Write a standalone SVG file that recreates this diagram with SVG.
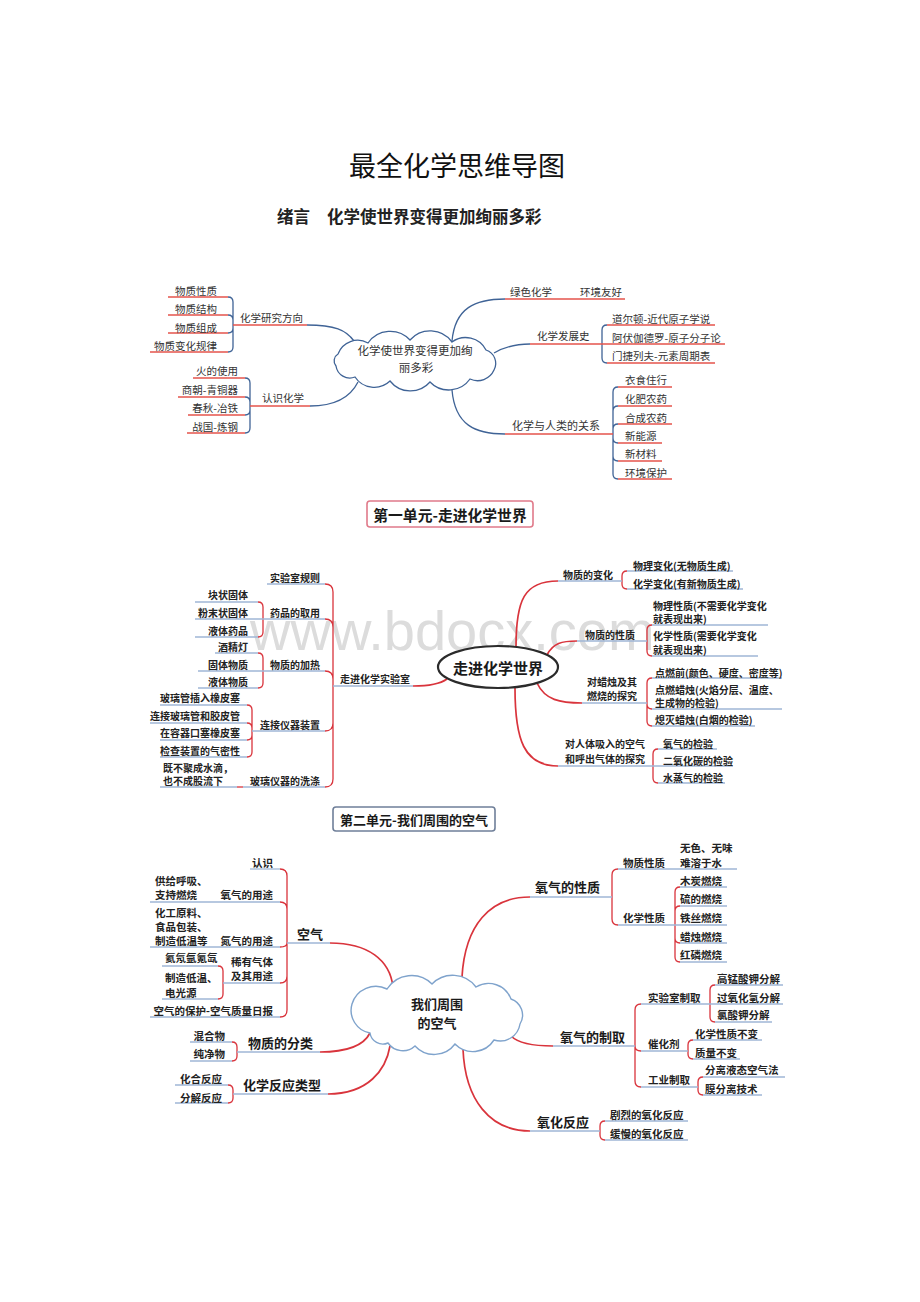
<svg xmlns="http://www.w3.org/2000/svg" width="920" height="1302" viewBox="0 0 920 1302">
<style>
text{font-family:"Noto Sans CJK SC","Noto Sans CJK JP",sans-serif;dominant-baseline:central}
.title{font-size:27px;fill:#111}
.sub{font-size:16.5px;font-weight:bold;fill:#222}
.a{font-size:10.5px;fill:#333}
.b{font-size:10px;font-weight:bold;fill:#222}
.c{font-size:10.5px;font-weight:bold;fill:#222}
.d{font-size:13px;font-weight:bold;fill:#1a1a1a}
.e{text-anchor:end}
.m{text-anchor:middle}
.u1{stroke:#e5534b;stroke-width:1.3;fill:none}
.k1{stroke:#3f6396;stroke-width:1.3;fill:none}
.u2{stroke:#9fb6d6;stroke-width:1.3;fill:none}
.k2{stroke:#d9343c;stroke-width:1.3;fill:none}
.k2b{stroke:#d9343c;stroke-width:1.7;fill:none}
.wm{font-family:"Liberation Sans",sans-serif;font-size:56px;fill:#dcdcdc;dominant-baseline:alphabetic}
</style>
<rect x="0" y="0" width="920" height="1302" fill="#fff"/>
<text class="wm" x="250" y="650">www.bdocx.com</text>

<g id="title"><text class="title m" x="457" y="164">最全化学思维导图</text></g>
<g id="subtitle"><text class="sub" x="277" y="216">绪言</text><text class="sub" x="327" y="216">化学使世界变得更加绚丽多彩</text></g>

<!-- ================= MAP 1 ================= -->
<g id="m1-connectors">
<path class="k1" d="M307,325 C335,325 346,330 354,341"/>
<path class="k1" d="M310,406 C336,406 351,396 358,382"/>
<path class="k1" d="M452,341 C455,308 475,299 505,299"/>
<path class="k1" d="M494,353 C506,346 516,344 530,344"/>
<path class="k1" d="M452,390 C455,425 475,434 505,434"/>
<path class="k1" d="M228,297 Q233,297 233,302 V325 M228,315 Q233,315 233,320 V325 M228,333 Q233,333 233,328 V325 M228,352 Q233,352 233,347 V325"/>
<path class="k1" d="M245,378 Q250,378 250,383 V406 M245,397 Q250,397 250,402 V406 M245,415 Q250,415 250,410 V406 M245,433 Q250,433 250,428 V406"/>
<path class="k1" d="M602,344 V330 Q602,325 607,325 M602,344 V358 Q602,363 607,363"/>
<path class="k1" d="M613,434 V392 Q613,387 618,387 M613,434 V411 Q613,406 618,406 M613,434 V429 Q613,424 618,424 M613,434 V438 Q613,443 618,443 M613,434 V456 Q613,461 618,461 M613,434 V474 Q613,479 618,479"/>
</g>
<g id="m1-center">
<path class="k1" style="fill:#fff" d="M338,354 A21,21 0 0 1 368,343 A27,27 0 0 1 410,340 A27,27 0 0 1 452,342 A23,23 0 0 1 486,350 A14,14 0 0 1 494,370 A18,18 0 0 1 470,379 A26,26 0 0 1 430,382 A26,26 0 0 1 390,381 A23,23 0 0 1 355,377 A14,14 0 0 1 336,366 A8,8 0 0 1 338,354 Z"/>
<text class="a m" x="415" y="350" style="font-size:11.5px">化学使世界变得更加绚</text>
<text class="a m" x="416" y="367" style="font-size:11.5px">丽多彩</text>
</g>
<g id="m1-yanjiu"><path class="u1" d="M233,325H307"/><text class="a" x="240" y="317">化学研究方向</text></g>
<g id="m1-xingzhi"><path class="u1" d="M168,297H228"/><text class="a e" x="217" y="290">物质性质</text></g>
<g id="m1-jiegou"><path class="u1" d="M168,315H228"/><text class="a e" x="217" y="308">物质结构</text></g>
<g id="m1-zucheng"><path class="u1" d="M168,333H228"/><text class="a e" x="217" y="327">物质组成</text></g>
<g id="m1-guilv"><path class="u1" d="M150,352H228"/><text class="a e" x="217" y="345">物质变化规律</text></g>
<g id="m1-renshi"><path class="u1" d="M250,406H310"/><text class="a" x="262" y="397">认识化学</text></g>
<g id="m1-huo"><path class="u1" d="M193,378H245"/><text class="a e" x="238" y="370">火的使用</text></g>
<g id="m1-shang"><path class="u1" d="M178,397H245"/><text class="a e" x="238" y="389">商朝-青铜器</text></g>
<g id="m1-chun"><path class="u1" d="M188,415H245"/><text class="a e" x="238" y="407">春秋-冶铁</text></g>
<g id="m1-zhan"><path class="u1" d="M187,433H245"/><text class="a e" x="238" y="426">战国-炼钢</text></g>
<g id="m1-lvse"><path class="u1" d="M505,299H573"/><text class="a" x="510" y="291">绿色化学</text></g>
<g id="m1-huanjing"><path class="u1" d="M573,299H625"/><text class="a" x="580" y="291">环境友好</text></g>
<g id="m1-fazhan"><path class="u1" d="M530,344H607"/><text class="a" x="537" y="335">化学发展史</text></g>
<g id="m1-daer"><path class="u1" d="M607,325H715"/><text class="a" x="612" y="318">道尔顿-近代原子学说</text></g>
<g id="m1-afu"><path class="u1" d="M607,344H725"/><text class="a" x="612" y="337">阿伏伽德罗-原子分子论</text></g>
<g id="m1-men"><path class="u1" d="M607,363H715"/><text class="a" x="612" y="355">门捷列夫-元素周期表</text></g>
<g id="m1-guanxi"><path class="u1" d="M505,434H613"/><text class="a" x="512" y="425" style="font-size:11px">化学与人类的关系</text></g>
<g id="m1-yishi"><path class="u1" d="M618,387H672"/><text class="a" x="625" y="379">衣食住行</text></g>
<g id="m1-huafei"><path class="u1" d="M618,406H672"/><text class="a" x="625" y="398">化肥农药</text></g>
<g id="m1-hecheng"><path class="u1" d="M618,424H672"/><text class="a" x="625" y="417">合成农药</text></g>
<g id="m1-nengyuan"><path class="u1" d="M618,443H662"/><text class="a" x="625" y="435">新能源</text></g>
<g id="m1-cailiao"><path class="u1" d="M618,461H662"/><text class="a" x="625" y="453">新材料</text></g>
<g id="m1-baohu"><path class="u1" d="M618,479H672"/><text class="a" x="625" y="472">环境保护</text></g>

<!-- ================= HEADER 1 ================= -->
<g id="header1"><rect x="367" y="501" width="166" height="26" rx="3" style="fill:#fff;stroke:#e07a8a;stroke-width:1.6"/><text class="d m" x="450" y="514" style="font-size:14.8px">第一单元-走进化学世界</text></g>

<!-- ================= MAP 2 ================= -->
<g id="m2-connectors">
<path class="k2b" d="M413,686 C430,686 440,684 447,679"/>
<path class="k2b" d="M516,647 C516,600 524,581 558,581"/>
<path class="k2b" d="M547,655 C553,643 562,641 577,641"/>
<path class="k2b" d="M537,683 C545,700 560,703 582,703"/>
<path class="k2b" d="M515,688 C515,740 524,766 558,766"/>
<path class="k2" d="M325,584 Q333,584 333,592 V686 M325,619 Q333,619 333,627 V686 M325,671 Q333,671 333,679 V686 M325,731 Q333,731 333,723 V686 M325,787 Q333,787 333,779 V686"/>
<path class="k2" d="M258,602 Q263,602 263,607 V619 M258,637 Q263,637 263,632 V619"/>
<path class="k2" d="M258,653 Q263,653 263,658 V671 M258,688 Q263,688 263,683 V671"/>
<path class="k2" d="M247,705 Q252,705 252,710 V731 M247,723 Q252,723 252,728 V731 M247,740 Q252,740 252,735 V731 M247,757 Q252,757 252,752 V731"/>
<path class="k2" d="M237,787 H243"/>
<path class="k2" d="M622,581 V576 Q622,571 627,571 M622,581 V584 Q622,589 627,589"/>
<path class="k2" d="M647,641 V630 Q647,625 652,625 M647,641 V651 Q647,656 652,656"/>
<path class="k2" d="M647,703 V683 Q647,678 652,678 M647,703 V704 Q647,709 652,709 M647,703 V721 Q647,726 652,726"/>
<path class="k2" d="M653,766 V754 Q653,749 658,749 M653,766 V778 Q653,783 658,783"/>
</g>
<g id="m2-center"><ellipse cx="498" cy="667" rx="60" ry="21" style="fill:#fff;stroke:#2b2b2b;stroke-width:2.2"/><text class="d m" x="498" y="667" style="font-size:15px">走进化学世界</text></g>
<g id="m2-lab"><path class="u2" d="M333,686H413"/><text class="b" x="340" y="678">走进化学实验室</text></g>
<g id="m2-guize"><path class="u2" d="M267,584H325"/><text class="b e" x="320" y="577">实验室规则</text></g>
<g id="m2-quyong"><path class="u2" d="M263,619H325"/><text class="b e" x="320" y="612">药品的取用</text></g>
<g id="m2-kuai"><path class="u2" d="M195,602H258"/><text class="b e" x="248" y="594">块状固体</text></g>
<g id="m2-fenmo"><path class="u2" d="M195,619H263"/><text class="b e" x="248" y="612">粉末状固体</text></g>
<g id="m2-yeti"><path class="u2" d="M195,637H258"/><text class="b e" x="248" y="630">液体药品</text></g>
<g id="m2-jiare"><path class="u2" d="M263,671H325"/><text class="b e" x="320" y="664">物质的加热</text></g>
<g id="m2-jiujing"><path class="u2" d="M215,653H258"/><text class="b e" x="248" y="646">酒精灯</text></g>
<g id="m2-guti"><path class="u2" d="M198,671H263"/><text class="b e" x="248" y="664">固体物质</text></g>
<g id="m2-yeti2"><path class="u2" d="M198,688H258"/><text class="b e" x="248" y="681">液体物质</text></g>
<g id="m2-lianjie"><path class="u2" d="M252,731H325"/><text class="b e" x="320" y="724">连接仪器装置</text></g>
<g id="m2-l1"><path class="u2" d="M160,705H247"/><text class="b e" x="240" y="697">玻璃管插入橡皮塞</text></g>
<g id="m2-l2"><path class="u2" d="M150,723H247"/><text class="b e" x="240" y="715">连接玻璃管和胶皮管</text></g>
<g id="m2-l3"><path class="u2" d="M160,740H247"/><text class="b e" x="240" y="732">在容器口塞橡皮塞</text></g>
<g id="m2-l4"><path class="u2" d="M160,757H247"/><text class="b e" x="240" y="750">检查装置的气密性</text></g>
<g id="m2-xidi"><path class="u2" d="M243,787H325"/><text class="b e" x="320" y="780">玻璃仪器的洗涤</text></g>
<g id="m2-xidi-leaf"><path class="u2" d="M160,787H237"/><text class="b" x="163" y="767">既不聚成水滴，</text><text class="b" x="163" y="780">也不成股流下</text></g>
<g id="m2-bianhua"><path class="u2" d="M558,581H622"/><text class="b" x="563" y="574">物质的变化</text></g>
<g id="m2-wuli"><path class="u2" d="M627,571H733"/><text class="b" x="633" y="565">物理变化(无物质生成)</text></g>
<g id="m2-huaxue"><path class="u2" d="M627,589H743"/><text class="b" x="633" y="583">化学变化(有新物质生成)</text></g>
<g id="m2-xingzhi"><path class="u2" d="M577,641H647"/><text class="b" x="585" y="634">物质的性质</text></g>
<g id="m2-wlxz"><path class="u2" d="M652,625H768"/><text class="b" x="653" y="605">物理性质(不需要化学变化</text><text class="b" x="653" y="618">就表现出来)</text></g>
<g id="m2-hxxz"><path class="u2" d="M652,656H758"/><text class="b" x="653" y="635">化学性质(需要化学变化</text><text class="b" x="653" y="649">就表现出来)</text></g>
<g id="m2-lazhu"><path class="u2" d="M582,703H647"/><text class="b" x="587" y="681">对蜡烛及其</text><text class="b" x="587" y="695">燃烧的探究</text></g>
<g id="m2-dianqian"><path class="u2" d="M652,678H782"/><text class="b" x="655" y="672">点燃前(颜色、硬度、密度等)</text></g>
<g id="m2-dianran"><path class="u2" d="M652,709H782"/><text class="b" x="655" y="689">点燃蜡烛(火焰分层、温度、</text><text class="b" x="655" y="702">生成物的检验)</text></g>
<g id="m2-ximie"><path class="u2" d="M652,726H755"/><text class="b" x="655" y="719">熄灭蜡烛(白烟的检验)</text></g>
<g id="m2-renti"><path class="u2" d="M558,766H653"/><text class="b" x="565" y="743">对人体吸入的空气</text><text class="b" x="565" y="758">和呼出气体的探究</text></g>
<g id="m2-yangqi"><path class="u2" d="M658,749H717"/><text class="b" x="663" y="743">氧气的检验</text></g>
<g id="m2-co2"><path class="u2" d="M653,766H733"/><text class="b" x="663" y="760">二氧化碳的检验</text></g>
<g id="m2-shui"><path class="u2" d="M658,783H725"/><text class="b" x="663" y="777">水蒸气的检验</text></g>

<!-- ================= HEADER 2 ================= -->
<g id="header2"><rect x="333" y="807" width="162" height="24" rx="3" style="fill:#fff;stroke:#6f7f99;stroke-width:1.6"/><text class="d m" x="414" y="819">第二单元-我们周围的空气</text></g>

<!-- ================= MAP 3 ================= -->
<g id="m3-connectors">
<path class="k2b" d="M330,943 C368,943 390,960 393,987"/>
<path class="k2b" d="M320,1052 C350,1052 364,1045 370,1033"/>
<path class="k2b" d="M328,1094 C368,1094 386,1070 390,1046"/>
<path class="k2b" d="M462,977 C465,925 490,897 530,897"/>
<path class="k2b" d="M511,1036 C518,1043 532,1046 553,1046"/>
<path class="k2b" d="M463,1049 C465,1100 490,1131 530,1131"/>
<path class="k2" d="M280,869 Q287,869 287,876 V943 M280,902 Q287,902 287,909 V943 M280,947 Q287,947 287,943 M280,983 Q287,983 287,976 V943 M280,1017 Q287,1017 287,1010 V943"/>
<path class="k2" d="M218,966 Q223,966 223,971 V983 M218,999 Q223,999 223,994 V983"/>
<path class="k2" d="M232,1042 Q237,1042 237,1047 V1052 M232,1061 Q237,1061 237,1056 V1052"/>
<path class="k2" d="M228,1085 Q233,1085 233,1090 V1094 M228,1103 Q233,1103 233,1098 V1094"/>
<path class="k2" d="M612,897 V875 Q612,869 618,869 M612,897 V919 Q612,925 618,925"/>
<path class="k2" d="M675,925 V892 Q675,887 680,887 M675,925 V911 Q675,906 680,906 M675,925 V938 Q675,943 680,943 M675,925 V957 Q675,962 680,962"/>
<path class="k2" d="M635,1046 V1010 Q635,1004 641,1004 M635,1046 Q635,1051 641,1051 M635,1046 V1081 Q635,1087 641,1087"/>
<path class="k2" d="M710,1004 V990 Q710,985 715,985 M710,1004 V1017 Q710,1022 715,1022"/>
<path class="k2" d="M688,1051 V1045 Q688,1040 693,1040 M688,1051 V1054 Q688,1059 693,1059"/>
<path class="k2" d="M698,1087 V1082 Q698,1077 703,1077 M698,1087 V1090 Q698,1095 703,1095"/>
<path class="k2" d="M600,1131 V1126 Q600,1121 605,1121 M600,1131 V1135 Q600,1140 605,1140"/>
</g>
<g id="m3-center">
<path style="fill:#fff;stroke:#7fa3cc;stroke-width:1.4" d="M352,1004 A25,25 0 0 1 387,989 A29,29 0 0 1 432,984 A29,29 0 0 1 476,987 A24,24 0 0 1 511,999 A17,17 0 0 1 520,1024 A20,20 0 0 1 494,1040 A25,25 0 0 1 455,1044 A26,26 0 0 1 415,1046 A18,18 0 0 1 388,1043 A13,13 0 0 1 370,1033 A23,23 0 0 1 352,1004 Z"/>
<text class="d m" x="437" y="1003">我们周围</text><text class="d m" x="437" y="1022">的空气</text>
</g>
<g id="m3-kongqi"><path class="u2" d="M287,943H330"/><text class="d" x="297" y="933">空气</text></g>
<g id="m3-renshi"><path class="u2" d="M250,869H280"/><text class="c e" x="273" y="862">认识</text></g>
<g id="m3-yqyt"><path class="u2" d="M212,902H280"/><text class="c e" x="273" y="894">氧气的用途</text></g>
<g id="m3-yqyt-leaf"><path class="u2" d="M150,902H212"/><text class="c" x="155" y="880">供给呼吸、</text><text class="c" x="155" y="894">支持燃烧</text></g>
<g id="m3-dqyt"><path class="u2" d="M212,947H280"/><text class="c e" x="273" y="940">氮气的用途</text></g>
<g id="m3-dqyt-leaf"><path class="u2" d="M150,947H212"/><text class="c" x="155" y="912">化工原料、</text><text class="c" x="155" y="926">食品包装、</text><text class="c" x="155" y="940">制造低温等</text></g>
<g id="m3-xiyou"><path class="u2" d="M223,983H280"/><text class="c e" x="273" y="961">稀有气体</text><text class="c e" x="273" y="975">及其用途</text></g>
<g id="m3-hai"><path class="u2" d="M162,966H218"/><text class="c" x="165" y="957">氦氖氩氪氙</text></g>
<g id="m3-diwen"><path class="u2" d="M162,999H218"/><text class="c" x="165" y="977">制造低温、</text><text class="c" x="165" y="992">电光源</text></g>
<g id="m3-baohu"><path class="u2" d="M150,1017H280"/><text class="c e" x="273" y="1010">空气的保护-空气质量日报</text></g>
<g id="m3-fenlei"><path class="u2" d="M237,1052H320"/><text class="d" x="248" y="1042">物质的分类</text></g>
<g id="m3-hunhe"><path class="u2" d="M190,1042H232"/><text class="c e" x="225" y="1035">混合物</text></g>
<g id="m3-chunjing"><path class="u2" d="M190,1061H232"/><text class="c e" x="225" y="1053">纯净物</text></g>
<g id="m3-leixing"><path class="u2" d="M233,1094H328"/><text class="d" x="243" y="1084">化学反应类型</text></g>
<g id="m3-huahe"><path class="u2" d="M175,1085H228"/><text class="c e" x="222" y="1078">化合反应</text></g>
<g id="m3-fenjie"><path class="u2" d="M175,1103H228"/><text class="c e" x="222" y="1097">分解反应</text></g>
<g id="m3-yqxz"><path class="u2" d="M530,897H612"/><text class="d" x="535" y="886">氧气的性质</text></g>
<g id="m3-wzxz"><path class="u2" d="M618,869H673"/><text class="c" x="623" y="862">物质性质</text></g>
<g id="m3-wuse"><path class="u2" d="M673,869H737"/><text class="c" x="680" y="847">无色、无味</text><text class="c" x="680" y="862">难溶于水</text></g>
<g id="m3-hxxz"><path class="u2" d="M618,925H675"/><text class="c" x="623" y="917">化学性质</text></g>
<g id="m3-mutan"><path class="u2" d="M680,887H727"/><text class="c" x="680" y="880">木炭燃烧</text></g>
<g id="m3-liu"><path class="u2" d="M680,906H727"/><text class="c" x="680" y="898">硫的燃烧</text></g>
<g id="m3-tiesi"><path class="u2" d="M675,925H727"/><text class="c" x="680" y="917">铁丝燃烧</text></g>
<g id="m3-lazhu"><path class="u2" d="M680,943H727"/><text class="c" x="680" y="936">蜡烛燃烧</text></g>
<g id="m3-honglin"><path class="u2" d="M680,962H727"/><text class="c" x="680" y="954">红磷燃烧</text></g>
<g id="m3-zhiqu"><path class="u2" d="M553,1046H635"/><text class="d" x="560" y="1036">氧气的制取</text></g>
<g id="m3-shiyan"><path class="u2" d="M641,1004H710"/><text class="c" x="648" y="997">实验室制取</text></g>
<g id="m3-gaomeng"><path class="u2" d="M715,985H783"/><text class="c" x="717" y="978">高锰酸钾分解</text></g>
<g id="m3-guoyang"><path class="u2" d="M710,1004H783"/><text class="c" x="717" y="997">过氧化氢分解</text></g>
<g id="m3-lvsuan"><path class="u2" d="M715,1022H772"/><text class="c" x="717" y="1014">氯酸钾分解</text></g>
<g id="m3-cuihua"><path class="u2" d="M641,1051H688"/><text class="c" x="648" y="1043">催化剂</text></g>
<g id="m3-bubian"><path class="u2" d="M693,1040H762"/><text class="c" x="695" y="1033">化学性质不变</text></g>
<g id="m3-zhiliang"><path class="u2" d="M693,1059H740"/><text class="c" x="695" y="1052">质量不变</text></g>
<g id="m3-gongye"><path class="u2" d="M641,1087H698"/><text class="c" x="648" y="1079">工业制取</text></g>
<g id="m3-fenli"><path class="u2" d="M703,1077H785"/><text class="c" x="705" y="1069">分离液态空气法</text></g>
<g id="m3-mo"><path class="u2" d="M703,1095H762"/><text class="c" x="705" y="1088">膜分离技术</text></g>
<g id="m3-yanghua"><path class="u2" d="M530,1131H600"/><text class="d" x="537" y="1121">氧化反应</text></g>
<g id="m3-julie"><path class="u2" d="M605,1121H688"/><text class="c" x="610" y="1114">剧烈的氧化反应</text></g>
<g id="m3-huanman"><path class="u2" d="M605,1140H688"/><text class="c" x="610" y="1133">缓慢的氧化反应</text></g>
</svg>
